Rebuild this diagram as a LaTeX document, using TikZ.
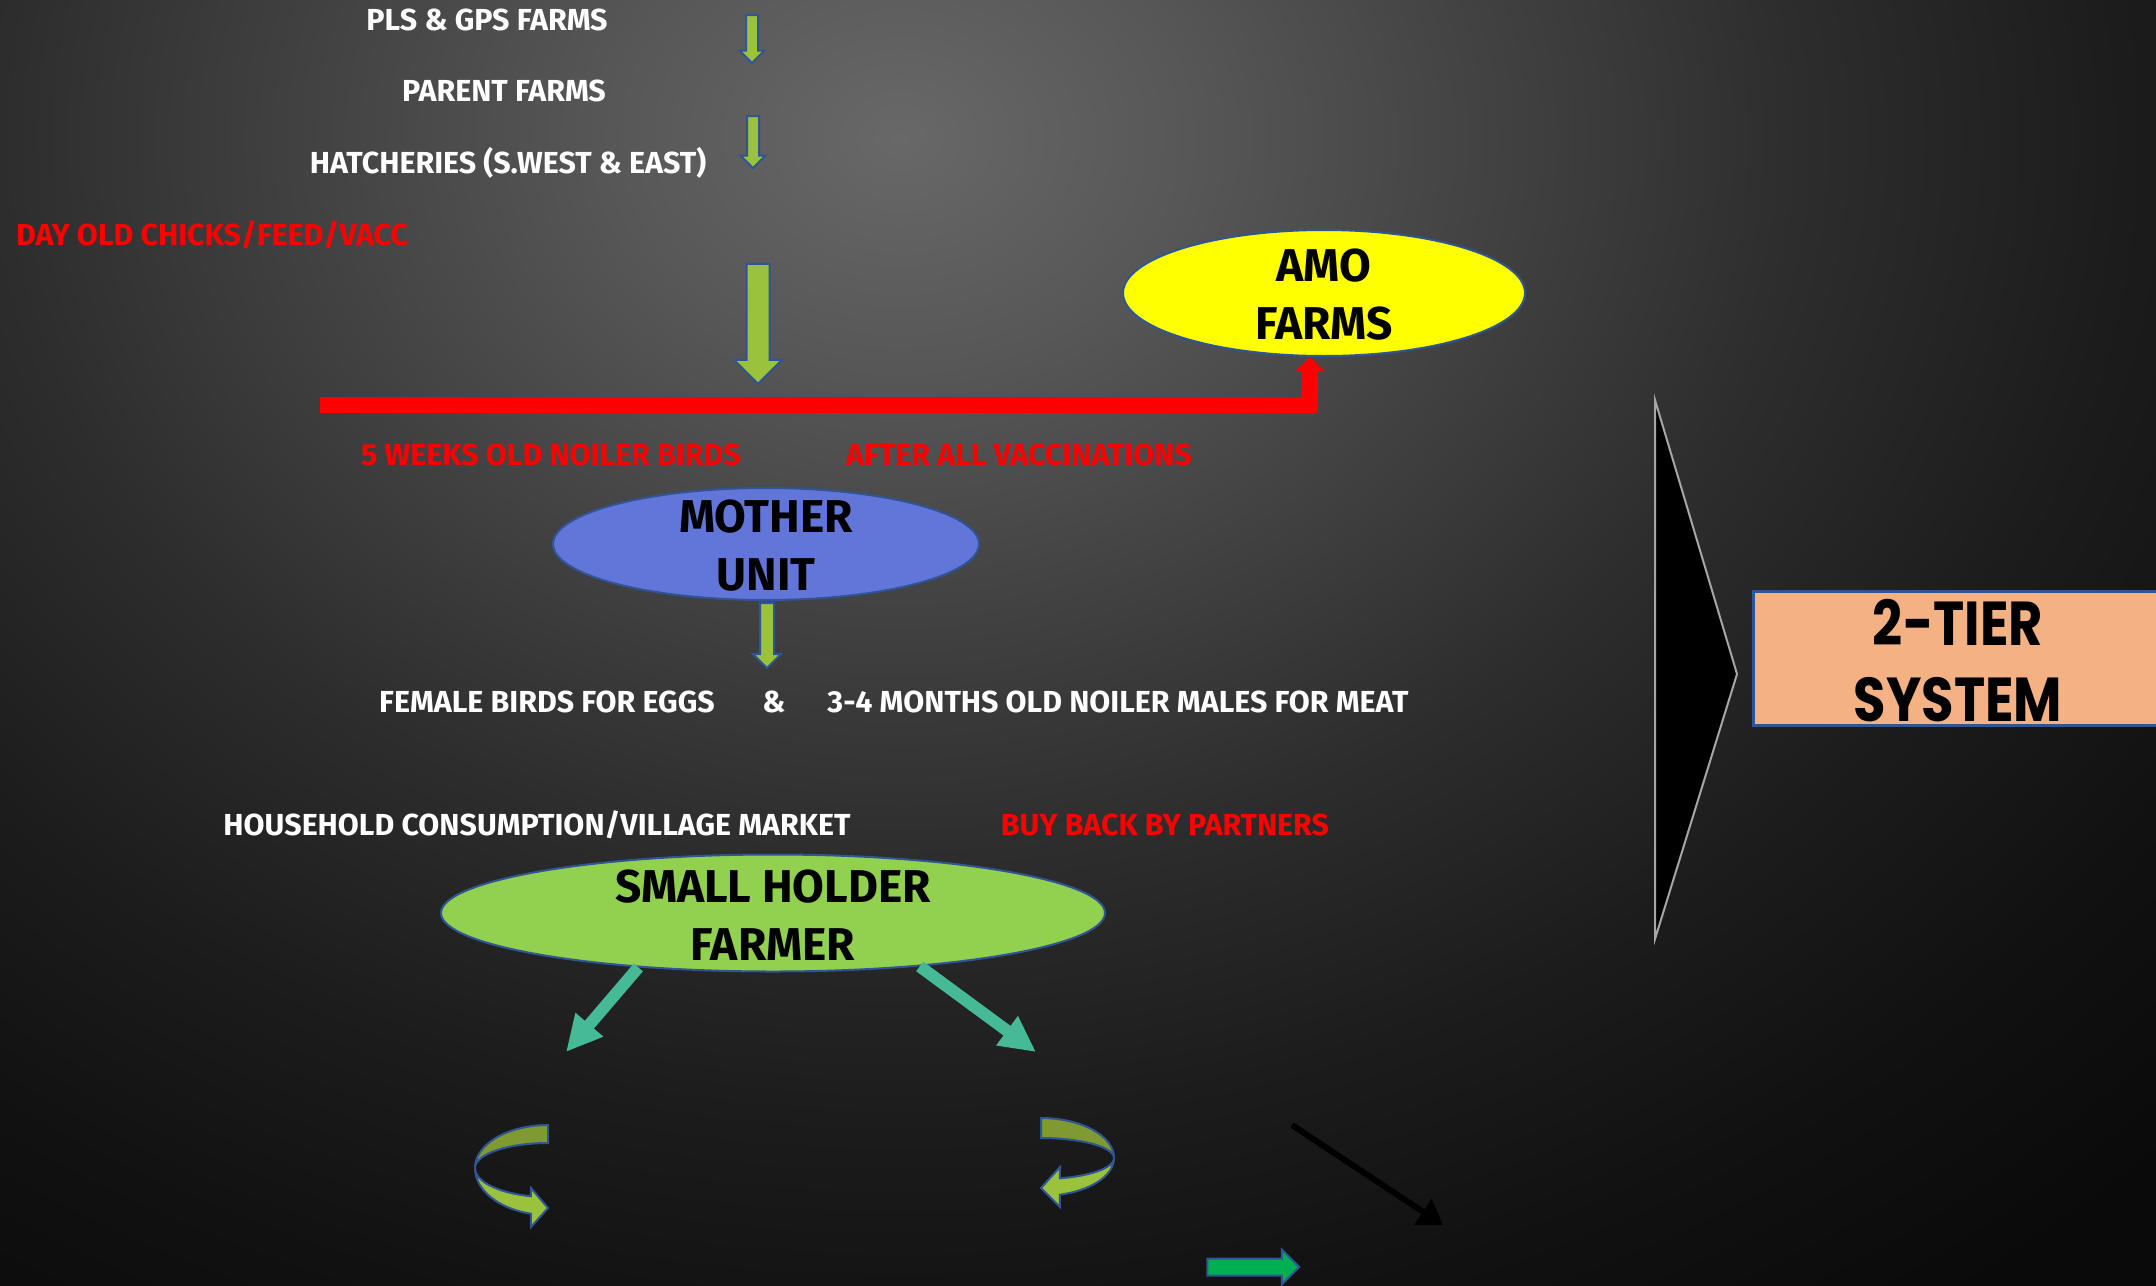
\documentclass[tikz,border=0pt]{standalone}
\usepackage{fontspec}
\setmainfont{Fira Sans}
\newfontfamily\slidefont{Fira Sans}
\newfontfamily\tierfont{Poppins}[FakeStretch=0.85]
\usetikzlibrary{shapes.geometric,shapes.arrows,arrows.meta,positioning,calc}

\definecolor{bgA}{HTML}{686868}
\definecolor{bgB}{HTML}{575757}
\definecolor{bgC}{HTML}{434343}
\definecolor{bgD}{HTML}{2D2D2D}
\definecolor{bgE}{HTML}{1C1C1C}
\definecolor{bgF}{HTML}{111111}
\definecolor{bgG}{HTML}{0A0A0A}
\definecolor{arrowblue}{HTML}{2F5597}
\definecolor{leafgreen}{HTML}{9BC23C}
\definecolor{olivedark}{HTML}{7F9A30}
\definecolor{amoyellow}{HTML}{FFFF00}
\definecolor{motherblue}{HTML}{6275D8}
\definecolor{farmgreen}{HTML}{92D050}
\definecolor{seagreen}{HTML}{46B997}
\definecolor{brightgreen}{HTML}{00B050}
\definecolor{peach}{HTML}{F4B183}
\definecolor{chevgrey}{HTML}{A6A6A6}

\pgfdeclareradialshading{slidebg}{\pgfpoint{0bp}{0bp}}{color(0bp)=(bgA); color(3.6bp)=(bgB); color(7.2bp)=(bgC); color(11.25bp)=(bgD); color(15.3bp)=(bgE); color(18.9bp)=(bgF); color(22.5bp)=(bgG); color(50bp)=(bgG)}

\tikzset{
	lbl/.style={font=\slidefont\bfseries\fontsize{15.2}{18}\selectfont,text=white,inner sep=0pt},
	redlbl/.style={lbl,text=red},
	ovaltext/.style={font=\slidefont\bfseries\fontsize{23}{29}\selectfont,align=center,inner sep=0pt},
	oval/.style={ellipse,draw=arrowblue,line width=1pt,inner sep=0pt},
	downarrow/.style={single arrow,draw=arrowblue,fill=leafgreen,line width=1pt,rotate=-90,inner xsep=0pt,single arrow tip angle=90},
	tealarrow/.style={draw=seagreen,line width=6pt,-{Triangle[length=18pt,width=17pt]}},
	twist/.style={draw=arrowblue,line width=1pt},
}

\begin{document}
\begin{tikzpicture}[x=0.5pt,y=-0.5pt]
			%slide background
			\useasboundingbox (0,0) rectangle (2156,1285);
			\clip (0,0) rectangle (2156,1285);
			\fill[bgG] (0,0) rectangle (2156,1285);
			\shade[shading=slidebg] (900,138) ellipse[x radius=1000pt,y radius=800pt];
			%supply chain top
			\node[lbl] (pls) at (487,20) {PLS \& GPS FARMS};
			\node[lbl] (parent) at (504,91) {PARENT FARMS};
			\node[lbl] (hatch) at (508,163) {HATCHERIES (S.WEST \& EAST)};
			\node[redlbl] (chicks) at (212,235) {DAY OLD CHICKS/FEED/VACC};
			\node[downarrow,minimum height=24pt,minimum width=11.5pt,inner ysep=2.5pt,single arrow head extend=3.25pt] (a1) at (752,36) {};
			\node[downarrow,minimum height=26pt,minimum width=11.5pt,inner ysep=2.5pt,single arrow head extend=3.25pt] (a2) at (753,139) {};
			\node[downarrow,minimum height=60pt,minimum width=23pt,inner ysep=5.25pt,single arrow head extend=6.25pt] (a3) at (758,318) {};
			%amo farms and red line
			\node[oval,fill=amoyellow,minimum width=201pt,minimum height=63pt] (amo) at (1324,293) {};
			\node[ovaltext] (amotxt) at (1324,295) {AMO\\FARMS};
			\coordinate (redstart) at (320,405);
			\draw[red,line width=8pt,-{Triangle[length=7pt,width=14pt]}] (redstart) -| ([xshift=-7pt]amo.south);
			\node[redlbl] (weeks) at (551,455) {5 WEEKS OLD NOILER BIRDS};
			\node[redlbl] (vacc) at (1019,455) {AFTER ALL VACCINATIONS};
			%mother unit
			\node[oval,fill=motherblue,minimum width=213pt,minimum height=56pt] (mother) at (766,544) {};
			\node[ovaltext] (mothertxt) at (766,546) {MOTHER\\UNIT};
			\node[downarrow,minimum height=32.5pt,minimum width=13pt,inner ysep=3pt,single arrow head extend=3.5pt] (a4) at (767,632) {};
			\node[lbl] (female) at (547,702) {FEMALE BIRDS FOR EGGS};
			\node[lbl] (amp) at (774,702) {\&};
			\node[lbl] (males) at (1118,702) {3-4 MONTHS OLD NOILER MALES FOR MEAT};
			%small holder farmer
			\node[lbl] (house) at (537,825) {HOUSEHOLD CONSUMPTION/VILLAGE MARKET};
			\node[redlbl] (buyback) at (1165,825) {BUY BACK BY PARTNERS};
			\node[oval,fill=farmgreen,minimum width=332pt,minimum height=58.5pt] (shf) at (773,913) {};
			\node[ovaltext] (shftxt) at (773,915) {SMALL HOLDER\\FARMER};
			\coordinate (lefttip) at (566,1052);
			\coordinate (righttip) at (1036,1052);
			\draw[tealarrow] (shf.202.8) -- (lefttip);
			\draw[tealarrow] (shf.340.9) -- (righttip);
			%turning arrows
			\filldraw[twist,fill=olivedark] plot[domain=90:180,variable=\t,smooth] ({548+73*cos(\t)},{1168-43*sin(\t)}) -- plot[domain=180:90,variable=\t,smooth] ({548+73*cos(\t)},{1168-25*sin(\t)}) -- cycle;
			\filldraw[twist,fill=leafgreen] plot[domain=180:256.5,variable=\t,smooth] ({548+73*cos(\t)},{1168-47*sin(\t)}) -- (531,1227) -- (548,1208) -- (531,1188) -- plot[domain=256.5:180,variable=\t,smooth] ({548+73*cos(\t)},{1168-29*sin(\t)}) -- cycle;
			\filldraw[twist,fill=olivedark] plot[domain=90:0,variable=\t,smooth] ({1041+73*cos(\t)},{1158-40*sin(\t)}) -- plot[domain=0:90,variable=\t,smooth] ({1041+73*cos(\t)},{1158-20*sin(\t)}) -- cycle;
			\filldraw[twist,fill=leafgreen] plot[domain=0:-75,variable=\t,smooth] ({1041+73*cos(\t)},{1158-38*sin(\t)}) -- (1060,1207) -- (1041,1188) -- (1060,1167) -- plot[domain=-75:0,variable=\t,smooth] ({1041+73*cos(\t)},{1158-21*sin(\t)}) -- cycle;
			%loose arrows
			\coordinate (blkstart) at (1292,1125);
			\coordinate (blkend) at (1443,1225);
			\draw[black,line width=3pt,-{Triangle[length=12pt,width=15pt]}] (blkstart) -- (blkend);
			\node[single arrow,draw=arrowblue,fill=brightgreen,line width=1pt,minimum height=46pt,minimum width=16.5pt,inner xsep=0pt,inner ysep=3.75pt,single arrow head extend=4.5pt,single arrow tip angle=90] (grn) at (1249,1267) {};
			%2-tier system
			\draw[fill=black,draw=chevgrey,line width=1pt] (1655,400) -- (1737,674) -- (1655,939) -- cycle;
			\node[draw=arrowblue,fill=peach,line width=1.5pt,minimum width=205pt,minimum height=67pt,inner sep=0pt] (tier) at (1958,658) {};
			\node[font=\tierfont\bfseries\fontsize{31}{38}\selectfont,align=center,inner sep=0pt] (tiertxt) at (1958,661) {2-TIER\\SYSTEM};
\end{tikzpicture}
\end{document}
